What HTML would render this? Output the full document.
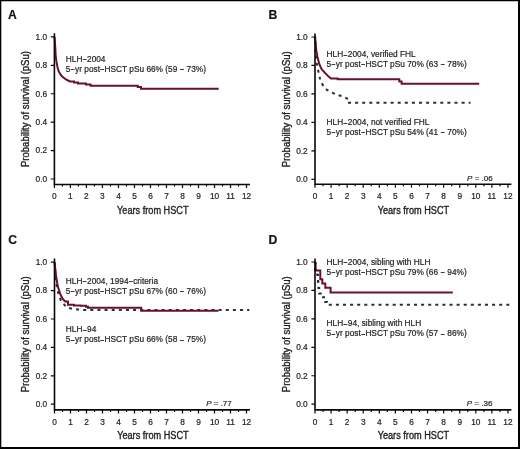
<!DOCTYPE html>
<html><head><meta charset="utf-8"><style>
html,body{margin:0;padding:0;background:#fff;width:520px;height:449px;overflow:hidden}
svg{display:block;will-change:transform}
text{font-family:"Liberation Sans",sans-serif;fill:#1e1e1e;stroke:#1e1e1e;stroke-width:0.2px}
.let{font-size:12.2px;font-weight:bold;fill:#111;stroke:#111;stroke-width:0.15px}
.tl{font-size:8.3px}
.at{font-size:10px;stroke-width:0.35px}
.an{font-size:8.3px}
.pv{font-size:8px}
.ax{fill:none;stroke:#080808;stroke-width:1.6}
.tk{fill:none;stroke:#080808;stroke-width:1.2}
.rd{fill:none;stroke:#68102f;stroke-width:2;stroke-linejoin:miter}
.bl{fill:none;stroke:#233040;stroke-width:2;stroke-dasharray:3 4}
</style></head><body>
<svg width="520" height="449" viewBox="0 0 520 449">
<text x="8" y="18.7" class="let">A</text>
<text x="47.1" y="39.7" class="tl" text-anchor="end">1.0</text>
<text x="47.1" y="68.12" class="tl" text-anchor="end">0.8</text>
<text x="47.1" y="96.54" class="tl" text-anchor="end">0.6</text>
<text x="47.1" y="124.96" class="tl" text-anchor="end">0.4</text>
<text x="47.1" y="153.38" class="tl" text-anchor="end">0.2</text>
<text x="47.1" y="181.8" class="tl" text-anchor="end">0.0</text>
<text x="54.4" y="199.1" class="tl" text-anchor="middle">0</text>
<text x="70.41" y="199.1" class="tl" text-anchor="middle">1</text>
<text x="86.42" y="199.1" class="tl" text-anchor="middle">2</text>
<text x="102.43" y="199.1" class="tl" text-anchor="middle">3</text>
<text x="118.44" y="199.1" class="tl" text-anchor="middle">4</text>
<text x="134.45" y="199.1" class="tl" text-anchor="middle">5</text>
<text x="150.46" y="199.1" class="tl" text-anchor="middle">6</text>
<text x="166.47" y="199.1" class="tl" text-anchor="middle">7</text>
<text x="182.48" y="199.1" class="tl" text-anchor="middle">8</text>
<text x="198.49" y="199.1" class="tl" text-anchor="middle">9</text>
<text x="214.5" y="199.1" class="tl" text-anchor="middle">10</text>
<text x="230.51" y="199.1" class="tl" text-anchor="middle">11</text>
<text x="246.52" y="199.1" class="tl" text-anchor="middle">12</text>
<text x="152.8" y="214" class="at" text-anchor="middle" textLength="71.5" lengthAdjust="spacingAndGlyphs">Years from HSCT</text>
<text transform="translate(29.3 109.05) rotate(-90)" x="0" y="0" class="at" text-anchor="middle" textLength="116" lengthAdjust="spacingAndGlyphs">Probability of survival (pSu)</text>
<text x="268.5" y="18.7" class="let">B</text>
<text x="307.7" y="39.8" class="tl" text-anchor="end">1.0</text>
<text x="307.7" y="68.26" class="tl" text-anchor="end">0.8</text>
<text x="307.7" y="96.72" class="tl" text-anchor="end">0.6</text>
<text x="307.7" y="125.18" class="tl" text-anchor="end">0.4</text>
<text x="307.7" y="153.64" class="tl" text-anchor="end">0.2</text>
<text x="307.7" y="182.1" class="tl" text-anchor="end">0.0</text>
<text x="315" y="198.8" class="tl" text-anchor="middle">0</text>
<text x="331.08" y="198.8" class="tl" text-anchor="middle">1</text>
<text x="347.16" y="198.8" class="tl" text-anchor="middle">2</text>
<text x="363.24" y="198.8" class="tl" text-anchor="middle">3</text>
<text x="379.32" y="198.8" class="tl" text-anchor="middle">4</text>
<text x="395.4" y="198.8" class="tl" text-anchor="middle">5</text>
<text x="411.48" y="198.8" class="tl" text-anchor="middle">6</text>
<text x="427.56" y="198.8" class="tl" text-anchor="middle">7</text>
<text x="443.64" y="198.8" class="tl" text-anchor="middle">8</text>
<text x="459.72" y="198.8" class="tl" text-anchor="middle">9</text>
<text x="475.8" y="198.8" class="tl" text-anchor="middle">10</text>
<text x="491.88" y="198.8" class="tl" text-anchor="middle">11</text>
<text x="507.96" y="198.8" class="tl" text-anchor="middle">12</text>
<text x="413.4" y="213.7" class="at" text-anchor="middle" textLength="71.5" lengthAdjust="spacingAndGlyphs">Years from HSCT</text>
<text transform="translate(289.9 109.25) rotate(-90)" x="0" y="0" class="at" text-anchor="middle" textLength="116" lengthAdjust="spacingAndGlyphs">Probability of survival (pSu)</text>
<text x="8.3" y="243.7" class="let">C</text>
<text x="47.2" y="265" class="tl" text-anchor="end">1.0</text>
<text x="47.2" y="293.4" class="tl" text-anchor="end">0.8</text>
<text x="47.2" y="321.8" class="tl" text-anchor="end">0.6</text>
<text x="47.2" y="350.2" class="tl" text-anchor="end">0.4</text>
<text x="47.2" y="378.6" class="tl" text-anchor="end">0.2</text>
<text x="47.2" y="407" class="tl" text-anchor="end">0.0</text>
<text x="54.5" y="424.5" class="tl" text-anchor="middle">0</text>
<text x="70.5" y="424.5" class="tl" text-anchor="middle">1</text>
<text x="86.5" y="424.5" class="tl" text-anchor="middle">2</text>
<text x="102.5" y="424.5" class="tl" text-anchor="middle">3</text>
<text x="118.5" y="424.5" class="tl" text-anchor="middle">4</text>
<text x="134.5" y="424.5" class="tl" text-anchor="middle">5</text>
<text x="150.5" y="424.5" class="tl" text-anchor="middle">6</text>
<text x="166.5" y="424.5" class="tl" text-anchor="middle">7</text>
<text x="182.5" y="424.5" class="tl" text-anchor="middle">8</text>
<text x="198.5" y="424.5" class="tl" text-anchor="middle">9</text>
<text x="214.5" y="424.5" class="tl" text-anchor="middle">10</text>
<text x="230.5" y="424.5" class="tl" text-anchor="middle">11</text>
<text x="246.5" y="424.5" class="tl" text-anchor="middle">12</text>
<text x="152.9" y="439.4" class="at" text-anchor="middle" textLength="71.5" lengthAdjust="spacingAndGlyphs">Years from HSCT</text>
<text transform="translate(29.4 334.3) rotate(-90)" x="0" y="0" class="at" text-anchor="middle" textLength="116" lengthAdjust="spacingAndGlyphs">Probability of survival (pSu)</text>
<text x="268.5" y="243.7" class="let">D</text>
<text x="307.7" y="264.8" class="tl" text-anchor="end">1.0</text>
<text x="307.7" y="293.24" class="tl" text-anchor="end">0.8</text>
<text x="307.7" y="321.68" class="tl" text-anchor="end">0.6</text>
<text x="307.7" y="350.12" class="tl" text-anchor="end">0.4</text>
<text x="307.7" y="378.56" class="tl" text-anchor="end">0.2</text>
<text x="307.7" y="407" class="tl" text-anchor="end">0.0</text>
<text x="315" y="424.5" class="tl" text-anchor="middle">0</text>
<text x="331.08" y="424.5" class="tl" text-anchor="middle">1</text>
<text x="347.16" y="424.5" class="tl" text-anchor="middle">2</text>
<text x="363.24" y="424.5" class="tl" text-anchor="middle">3</text>
<text x="379.32" y="424.5" class="tl" text-anchor="middle">4</text>
<text x="395.4" y="424.5" class="tl" text-anchor="middle">5</text>
<text x="411.48" y="424.5" class="tl" text-anchor="middle">6</text>
<text x="427.56" y="424.5" class="tl" text-anchor="middle">7</text>
<text x="443.64" y="424.5" class="tl" text-anchor="middle">8</text>
<text x="459.72" y="424.5" class="tl" text-anchor="middle">9</text>
<text x="475.8" y="424.5" class="tl" text-anchor="middle">10</text>
<text x="491.88" y="424.5" class="tl" text-anchor="middle">11</text>
<text x="507.96" y="424.5" class="tl" text-anchor="middle">12</text>
<text x="413.4" y="439.4" class="at" text-anchor="middle" textLength="71.5" lengthAdjust="spacingAndGlyphs">Years from HSCT</text>
<text transform="translate(289.9 334.2) rotate(-90)" x="0" y="0" class="at" text-anchor="middle" textLength="116" lengthAdjust="spacingAndGlyphs">Probability of survival (pSu)</text>
<text x="65.8" y="62" class="an">HLH<tspan font-size="6px" dx="0.64" dy="-0.57" style="stroke-width:0.45px">–</tspan><tspan dx="0.64" dy="0.57">2004</tspan></text>
<text x="65.8" y="71.5" class="an">5<tspan font-size="6px" dx="0.64" dy="-0.57" style="stroke-width:0.45px">–</tspan><tspan dx="0.64" dy="0.57">yr post<tspan font-size="6px" dx="0.64" dy="-0.57" style="stroke-width:0.45px">–</tspan><tspan dx="0.64" dy="0.57">HSCT pSu 66% (59 <tspan font-size="6px" dx="0.64" dy="-0.57" style="stroke-width:0.45px">–</tspan><tspan dx="0.64" dy="0.57"> 73%)</tspan></tspan></tspan></text>
<text x="326.6" y="57.1" class="an">HLH<tspan font-size="6px" dx="0.64" dy="-0.57" style="stroke-width:0.45px">–</tspan><tspan dx="0.64" dy="0.57">2004, verified FHL</tspan></text>
<text x="326.6" y="66.9" class="an">5<tspan font-size="6px" dx="0.64" dy="-0.57" style="stroke-width:0.45px">–</tspan><tspan dx="0.64" dy="0.57">yr post<tspan font-size="6px" dx="0.64" dy="-0.57" style="stroke-width:0.45px">–</tspan><tspan dx="0.64" dy="0.57">HSCT pSu 70% (63 <tspan font-size="6px" dx="0.64" dy="-0.57" style="stroke-width:0.45px">–</tspan><tspan dx="0.64" dy="0.57"> 78%)</tspan></tspan></tspan></text>
<text x="326.6" y="125.2" class="an">HLH<tspan font-size="6px" dx="0.64" dy="-0.57" style="stroke-width:0.45px">–</tspan><tspan dx="0.64" dy="0.57">2004, not verified FHL</tspan></text>
<text x="326.6" y="134.7" class="an">5<tspan font-size="6px" dx="0.64" dy="-0.57" style="stroke-width:0.45px">–</tspan><tspan dx="0.64" dy="0.57">yr post<tspan font-size="6px" dx="0.64" dy="-0.57" style="stroke-width:0.45px">–</tspan><tspan dx="0.64" dy="0.57">HSCT pSu 54% (41 <tspan font-size="6px" dx="0.64" dy="-0.57" style="stroke-width:0.45px">–</tspan><tspan dx="0.64" dy="0.57"> 70%)</tspan></tspan></tspan></text>
<text x="65.8" y="284" class="an">HLH<tspan font-size="6px" dx="0.64" dy="-0.57" style="stroke-width:0.45px">–</tspan><tspan dx="0.64" dy="0.57">2004, 1994<tspan font-size="6px" dx="0.64" dy="-0.57" style="stroke-width:0.45px">–</tspan><tspan dx="0.64" dy="0.57">criteria</tspan></tspan></text>
<text x="65.8" y="293.8" class="an">5<tspan font-size="6px" dx="0.64" dy="-0.57" style="stroke-width:0.45px">–</tspan><tspan dx="0.64" dy="0.57">yr post<tspan font-size="6px" dx="0.64" dy="-0.57" style="stroke-width:0.45px">–</tspan><tspan dx="0.64" dy="0.57">HSCT pSu 67% (60 <tspan font-size="6px" dx="0.64" dy="-0.57" style="stroke-width:0.45px">–</tspan><tspan dx="0.64" dy="0.57"> 76%)</tspan></tspan></tspan></text>
<text x="65.8" y="332.3" class="an">HLH<tspan font-size="6px" dx="0.64" dy="-0.57" style="stroke-width:0.45px">–</tspan><tspan dx="0.64" dy="0.57">94</tspan></text>
<text x="65.8" y="342.1" class="an">5<tspan font-size="6px" dx="0.64" dy="-0.57" style="stroke-width:0.45px">–</tspan><tspan dx="0.64" dy="0.57">yr post<tspan font-size="6px" dx="0.64" dy="-0.57" style="stroke-width:0.45px">–</tspan><tspan dx="0.64" dy="0.57">HSCT pSu 66% (58 <tspan font-size="6px" dx="0.64" dy="-0.57" style="stroke-width:0.45px">–</tspan><tspan dx="0.64" dy="0.57"> 75%)</tspan></tspan></tspan></text>
<text x="326.6" y="264.7" class="an">HLH<tspan font-size="6px" dx="0.64" dy="-0.57" style="stroke-width:0.45px">–</tspan><tspan dx="0.64" dy="0.57">2004, sibling with HLH</tspan></text>
<text x="326.6" y="275" class="an">5<tspan font-size="6px" dx="0.64" dy="-0.57" style="stroke-width:0.45px">–</tspan><tspan dx="0.64" dy="0.57">yr post<tspan font-size="6px" dx="0.64" dy="-0.57" style="stroke-width:0.45px">–</tspan><tspan dx="0.64" dy="0.57">HSCT pSu 79% (66 <tspan font-size="6px" dx="0.64" dy="-0.57" style="stroke-width:0.45px">–</tspan><tspan dx="0.64" dy="0.57"> 94%)</tspan></tspan></tspan></text>
<text x="326.6" y="326.1" class="an">HLH<tspan font-size="6px" dx="0.64" dy="-0.57" style="stroke-width:0.45px">–</tspan><tspan dx="0.64" dy="0.57">94, sibling with HLH</tspan></text>
<text x="326.6" y="336.1" class="an">5<tspan font-size="6px" dx="0.64" dy="-0.57" style="stroke-width:0.45px">–</tspan><tspan dx="0.64" dy="0.57">yr post<tspan font-size="6px" dx="0.64" dy="-0.57" style="stroke-width:0.45px">–</tspan><tspan dx="0.64" dy="0.57">HSCT pSu 70% (57 <tspan font-size="6px" dx="0.64" dy="-0.57" style="stroke-width:0.45px">–</tspan><tspan dx="0.64" dy="0.57"> 86%)</tspan></tspan></tspan></text>
<text x="467.1" y="180.5" class="pv"><tspan font-style="italic">P</tspan> = .06</text>
<text x="206.2" y="406.4" class="pv"><tspan font-style="italic">P</tspan> = .77</text>
<text x="466.8" y="406.4" class="pv"><tspan font-style="italic">P</tspan> = .36</text>
<path d="M54.6 36.9L54.9 41 55.1 45.4 55.4 50 55.6 54.7 56 58 56.4 61.4 56.9 64 57.4 66.8 58 69 58.7 71.4 59.7 73 60.7 74.8 62 76.2 63.4 77.5 64.7 78.5 66 79.5 68 80.5 70 81.5H74V82.5H78V83.5H85.9V84.6H90.6V85.7H137.7V87H141V88.8H218.7" class="rd"/>
<path d="M315.2 36.7L315.6 50 316.2 58 316.7 62.9 317.3 66 318 69.6 318.6 72.5 319.2 75.4 320 78.5 321 81.5 323.5 86.5 327 90 331.5 92.3 336.5 94.6 342 96.2 347 98.5H349V102.7H470.5" class="bl" style="stroke-dasharray:3 4.10;stroke-dashoffset:2.31"/>
<path d="M315.1 36.7L315.7 44 316.3 50.4 317.5 57 319.2 63.7 320.9 67.9 322 69.6 323.4 71.2 325 73 326.7 74.6 328 76 329.2 77.1 330.9 78.4H337.7V79.3H399.3V81.5H401.6V83.8H479.2" class="rd"/>
<path d="M54.6 262.2L55.3 272 56 281.4 56.7 285.5 57.4 289.4 58.7 294.8 59.7 297.5 60.7 300.1 62 302 63.4 303.5 65 305.5 66.7 307.5 72 308.8 78 309.5 84.8 310.1H249.3" class="bl" style="stroke-dasharray:3 4.13;stroke-dashoffset:6.47"/>
<path d="M54.7 262.2L55.1 267 55.6 272 56.1 276 56.7 280 57.3 283.5 58 286.7 59 290 60 293.4 61.3 296.2 62.7 298.8 64 300.2 65.4 301.5H68V304.8H74V305.5H80.7V305.8H86V306.7H88V307.7H141.2V310.7H218.5" class="rd"/>
<path d="M315.4 262V270H317.3V275H318V282H318.4V288H319.2V293.5H322V297.3H325.2V302H327V304.7H510" class="bl" style="stroke-dasharray:3 4.10;stroke-dashoffset:0.70"/>
<path d="M315.6 262V270.5H320.3V279.2H322.3V283.4H325.3V287.7H330.6V292.4H452.8" class="rd"/>
<path d="M54.4 33.3V185.25M53.65 184.5H249.92" class="ax"/>
<path d="M50.8 36.9H54.4M50.8 65.32H54.4M50.8 93.74H54.4M50.8 122.16H54.4M50.8 150.58H54.4M50.8 179H54.4M54.4 184.5V188.1M62.41 184.5V186.6M70.41 184.5V188.1M78.41 184.5V186.6M86.42 184.5V188.1M94.43 184.5V186.6M102.43 184.5V188.1M110.44 184.5V186.6M118.44 184.5V188.1M126.44 184.5V186.6M134.45 184.5V188.1M142.46 184.5V186.6M150.46 184.5V188.1M158.47 184.5V186.6M166.47 184.5V188.1M174.48 184.5V186.6M182.48 184.5V188.1M190.49 184.5V186.6M198.49 184.5V188.1M206.5 184.5V186.6M214.5 184.5V188.1M222.51 184.5V186.6M230.51 184.5V188.1M238.52 184.5V186.6M246.52 184.5V188.1" class="tk"/>
<path d="M315 33.4V184.95M314.25 184.2H511.36" class="ax"/>
<path d="M311.4 37H315M311.4 65.46H315M311.4 93.92H315M311.4 122.38H315M311.4 150.84H315M311.4 179.3H315M315 184.2V187.8M323.04 184.2V186.3M331.08 184.2V187.8M339.12 184.2V186.3M347.16 184.2V187.8M355.2 184.2V186.3M363.24 184.2V187.8M371.28 184.2V186.3M379.32 184.2V187.8M387.36 184.2V186.3M395.4 184.2V187.8M403.44 184.2V186.3M411.48 184.2V187.8M419.52 184.2V186.3M427.56 184.2V187.8M435.6 184.2V186.3M443.64 184.2V187.8M451.68 184.2V186.3M459.72 184.2V187.8M467.76 184.2V186.3M475.8 184.2V187.8M483.84 184.2V186.3M491.88 184.2V187.8M499.92 184.2V186.3M507.96 184.2V187.8" class="tk"/>
<path d="M54.5 258.6V410.65M53.75 409.9H249.9" class="ax"/>
<path d="M50.9 262.2H54.5M50.9 290.6H54.5M50.9 319H54.5M50.9 347.4H54.5M50.9 375.8H54.5M50.9 404.2H54.5M54.5 409.9V413.5M62.5 409.9V412M70.5 409.9V413.5M78.5 409.9V412M86.5 409.9V413.5M94.5 409.9V412M102.5 409.9V413.5M110.5 409.9V412M118.5 409.9V413.5M126.5 409.9V412M134.5 409.9V413.5M142.5 409.9V412M150.5 409.9V413.5M158.5 409.9V412M166.5 409.9V413.5M174.5 409.9V412M182.5 409.9V413.5M190.5 409.9V412M198.5 409.9V413.5M206.5 409.9V412M214.5 409.9V413.5M222.5 409.9V412M230.5 409.9V413.5M238.5 409.9V412M246.5 409.9V413.5" class="tk"/>
<path d="M315 258.4V410.65M314.25 409.9H511.36" class="ax"/>
<path d="M311.4 262H315M311.4 290.44H315M311.4 318.88H315M311.4 347.32H315M311.4 375.76H315M311.4 404.2H315M315 409.9V413.5M323.04 409.9V412M331.08 409.9V413.5M339.12 409.9V412M347.16 409.9V413.5M355.2 409.9V412M363.24 409.9V413.5M371.28 409.9V412M379.32 409.9V413.5M387.36 409.9V412M395.4 409.9V413.5M403.44 409.9V412M411.48 409.9V413.5M419.52 409.9V412M427.56 409.9V413.5M435.6 409.9V412M443.64 409.9V413.5M451.68 409.9V412M459.72 409.9V413.5M467.76 409.9V412M475.8 409.9V413.5M483.84 409.9V412M491.88 409.9V413.5M499.92 409.9V412M507.96 409.9V413.5" class="tk"/>
<path d="M0.65 449V0.65H520" fill="none" stroke="#000" stroke-width="1.3"/>
<path d="M519 0V449M0 448H520" fill="none" stroke="#000" stroke-width="2"/>
</svg>
</body></html>
